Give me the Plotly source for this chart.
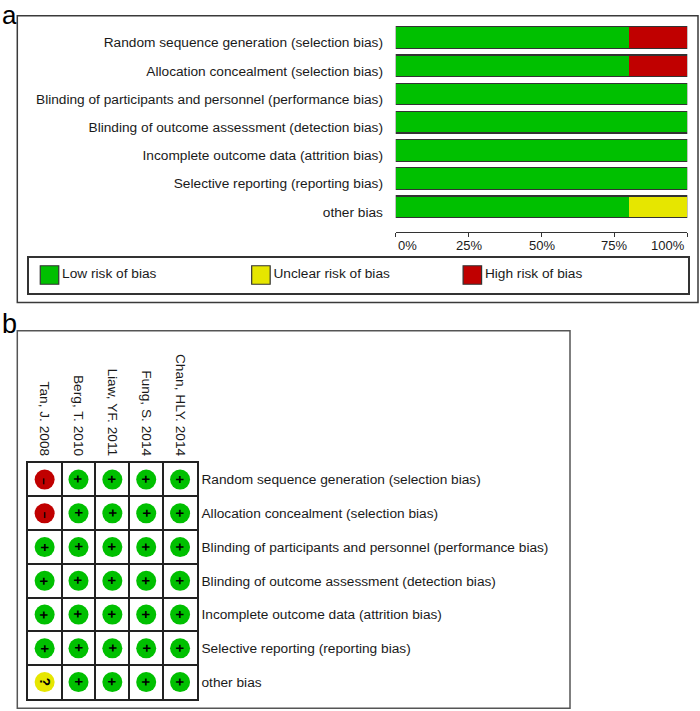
import plotly.graph_objects as go

# ---------------- data ----------------
domains = [
    "Random sequence generation (selection bias)",
    "Allocation concealment (selection bias)",
    "Blinding of participants and personnel (performance bias)",
    "Blinding of outcome assessment (detection bias)",
    "Incomplete outcome data (attrition bias)",
    "Selective reporting (reporting bias)",
    "other bias",
]
low_pct = [80, 80, 100, 100, 100, 100, 80]
unclear_pct = [0, 0, 0, 0, 0, 0, 20]
high_pct = [20, 20, 0, 0, 0, 0, 0]
pct_ticks = [0, 25, 50, 75, 100]
pct_labels = ["0%", "25%", "50%", "75%", "100%"]

legend_labels = ["Low risk of bias", "Unclear risk of bias", "High risk of bias"]

studies = ["Tan, J. 2008", "Berg, T. 2010", "Liaw, YF. 2011", "Fung, S. 2014", "Chan, HLY. 2014"]
tan_2008 = ["-", "-", "+", "+", "+", "+", "?"]
berg_2010 = ["+", "+", "+", "+", "+", "+", "+"]
liaw_2011 = ["+", "+", "+", "+", "+", "+", "+"]
fung_2014 = ["+", "+", "+", "+", "+", "+", "+"]
chan_2014 = ["+", "+", "+", "+", "+", "+", "+"]
judgements = [tan_2008, berg_2010, liaw_2011, fung_2014, chan_2014]

# ---------------- style ----------------
GREEN = "#00C000"
YELLOW = "#E6E600"
RED = "#C00000"
judge_color = {"+": GREEN, "?": YELLOW, "-": RED}
judge_text = {"+": "<b>+</b>", "?": "<b>?</b>", "-": "<b>–</b>"}
FONT = "Liberation Sans, Arial, sans-serif"
TXT = "#1a1a1a"
LINE = "#333333"
W, H = 700, 711


def fx(px):
    return px / W


def fy(py):
    return 1 - py / H


fig = go.Figure()

# ---- panel a: stacked bars ----
bw = 0.765
for vals, col in [(low_pct, GREEN), (unclear_pct, YELLOW), (high_pct, RED)]:
    fig.add_trace(go.Bar(x=vals, y=domains, orientation="h", width=bw,
                         marker=dict(color=col, line=dict(width=0)),
                         xaxis="x", yaxis="y", hoverinfo="skip"))
totals = [a + b + c for a, b, c in zip(low_pct, unclear_pct, high_pct)]
fig.add_trace(go.Bar(x=totals, y=domains, orientation="h", width=bw,
                     marker=dict(color="rgba(0,0,0,0)", line=dict(width=1.3, color=LINE)),
                     xaxis="x", yaxis="y3", hoverinfo="skip"))

# ---- legend of panel a ----
fig.add_trace(go.Scatter(x=[0, 1, 2], y=[0, 0, 0], mode="markers+text",
                         marker=dict(symbol="square", size=18.5, color=[GREEN, YELLOW, RED],
                                     line=dict(width=1.2, color=LINE)),
                         text=legend_labels, textposition="middle right",
                         textfont=dict(family=FONT, size=13.7, color=TXT),
                         cliponaxis=False, xaxis="x4", yaxis="y4", hoverinfo="skip"))

# ---- panel b: judgement grid ----
cx, cy, cc = [], [], []
for s, col in zip(studies, judgements):
    for d, j in zip(domains, col):
        cx.append(s)
        cy.append(d)
        cc.append(judge_color[j])
fig.add_trace(go.Scatter(x=cx, y=cy, mode="markers",
                         marker=dict(size=20, color=cc, line=dict(width=0)),
                         xaxis="x5", yaxis="y5", hoverinfo="skip"))

annotations = []
for s, col in zip(studies, judgements):
    for d, j in zip(domains, col):
        annotations.append(dict(x=s, y=d, xref="x5", yref="y5", text=judge_text[j],
                                textangle=90, showarrow=False,
                                yshift=-2 if j == "-" else 0,
                                font=dict(family=FONT, size=14 if j != "-" else 12, color="#000")))

for v, lab in zip(pct_ticks, pct_labels):
    anchor = "left" if v == min(pct_ticks) else ("right" if v == max(pct_ticks) else "center")
    annotations.append(dict(x=v, y=fy(245.6), xref="x", yref="paper", text=lab, showarrow=False,
                            xanchor=anchor, yanchor="middle",
                            font=dict(family=FONT, size=13, color=TXT)))

annotations.append(dict(x=0, y=fy(15.5), xref="paper", yref="paper", text="a", showarrow=False,
                        xanchor="left", yanchor="middle", font=dict(family=FONT, size=26, color="#000")))
annotations.append(dict(x=0, y=fy(323.8), xref="paper", yref="paper", text="b", showarrow=False,
                        xanchor="left", yanchor="middle", font=dict(family=FONT, size=27, color="#000")))

tickfont = dict(family=FONT, size=13.7, color=TXT)
row_range = [len(domains) - 0.5, -0.5]
col_range = [-0.5, len(studies) - 0.5]

fig.update_layout(
    width=W, height=H, margin=dict(l=0, r=0, t=0, b=0),
    paper_bgcolor="white", plot_bgcolor="rgba(0,0,0,0)",
    barmode="stack", showlegend=False,
    xaxis=dict(domain=[fx(395.7), fx(687.3)], range=[0, 100], anchor="free", position=fy(232.3),
               showline=True, linecolor=LINE, linewidth=1.3, ticks="outside", ticklen=4,
               tickcolor=LINE, tickwidth=1.3, tickvals=pct_ticks, showticklabels=False,
               showgrid=False, zeroline=False, fixedrange=True),
    xaxis3=dict(overlaying="x", range=[0, 100], anchor="free", position=fy(232.3),
                showline=False, ticks="inside", ticklen=4, tickcolor=LINE, tickwidth=1.3,
                tickvals=pct_ticks, showticklabels=False, showgrid=False, zeroline=False),
    yaxis=dict(domain=[fy(220.93), fy(23.39)], type="category", categoryarray=domains,
               range=row_range, anchor="x", ticks="outside", ticklen=9,
               tickcolor="rgba(0,0,0,0)", showline=False, showgrid=False, zeroline=False,
               tickfont=tickfont, ticklabelshift=-5),
    yaxis3=dict(overlaying="y", type="category", categoryarray=domains, range=row_range,
                anchor="x", visible=False),
    xaxis4=dict(domain=[fx(29), fx(688)], range=[-0.097, 3.02], anchor="y4",
                showline=True, mirror=True, linecolor=LINE, linewidth=1.5,
                showticklabels=False, ticks="", showgrid=False, zeroline=False),
    yaxis4=dict(domain=[fy(292.5), fy(257.5)], range=[-1, 1], anchor="x4",
                showline=True, mirror=True, linecolor=LINE, linewidth=1.5,
                showticklabels=False, ticks="", showgrid=False, zeroline=False),
    xaxis5=dict(domain=[fx(27.7), fx(197)], type="category", categoryarray=studies,
                range=col_range, anchor="y5", side="top", tickangle=90, tickson="boundaries",
                ticks="", showgrid=True, gridcolor="#222", gridwidth=1.5,
                showline=True, mirror=True, linecolor="#222", linewidth=1.5,
                zeroline=False, tickfont=tickfont),
    yaxis5=dict(domain=[fy(699), fy(462.7)], type="category", categoryarray=domains,
                range=row_range, anchor="x5", side="right", tickson="boundaries",
                ticks="outside", ticklen=10, tickcolor="rgba(0,0,0,0)",
                showgrid=True, gridcolor="#222", gridwidth=1.5,
                showline=True, mirror=True, linecolor="#222", linewidth=1.5,
                zeroline=False, tickfont=tickfont),
    annotations=annotations,
    shapes=[
        dict(type="rect", xref="paper", yref="paper", x0=fx(17.3), x1=fx(698), y0=fy(302.5), y1=fy(15.7),
             line=dict(color="#3a3a3a", width=1.5), fillcolor="rgba(0,0,0,0)", layer="below"),
        dict(type="rect", xref="paper", yref="paper", x0=fx(17.3), x1=fx(570), y0=fy(708.3), y1=fy(330.7),
             line=dict(color="#555555", width=1.5), fillcolor="rgba(0,0,0,0)", layer="below"),
    ],
)

fig.write_html("out.html", config={"displayModeBar": False},
               post_script="document.body.style.margin='0px';")
